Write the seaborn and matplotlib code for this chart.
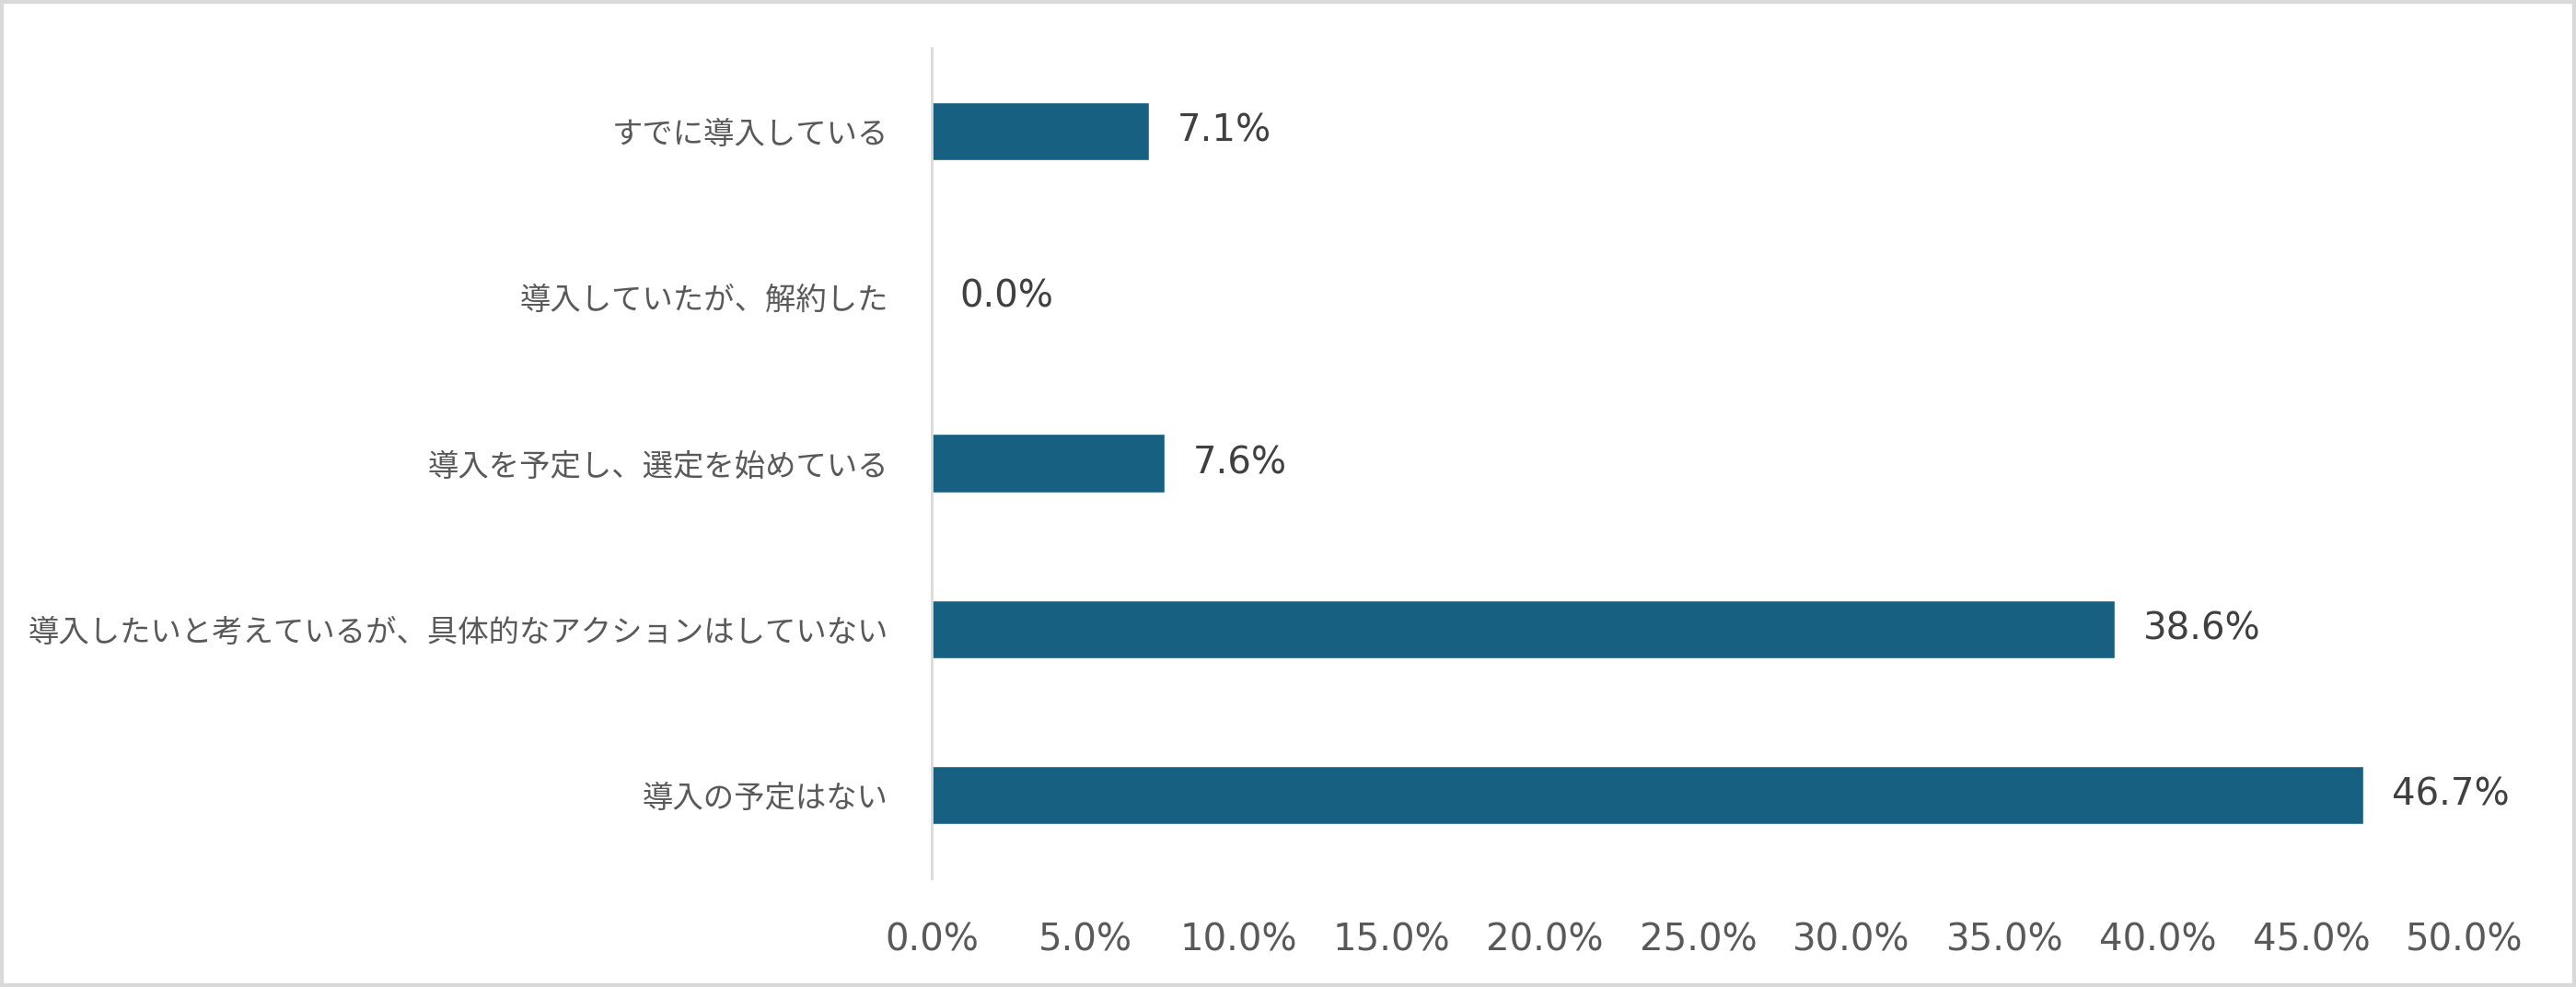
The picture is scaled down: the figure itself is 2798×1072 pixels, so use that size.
import matplotlib
matplotlib.use("Agg")
import matplotlib.pyplot as plt
import seaborn as sns
import pandas as pd
from matplotlib.patches import Rectangle
from matplotlib.ticker import FuncFormatter

categories = [
    "すでに導入している",
    "導入していたが、解約した",
    "導入を予定し、選定を始めている",
    "導入したいと考えているが、具体的なアクションはしていない",
    "導入の予定はない",
]
values = [7.1, 0.0, 7.6, 38.6, 46.7]
x_ticks = [0, 5, 10, 15, 20, 25, 30, 35, 40, 45, 50]

sns.set_theme(style="white")
plt.rcParams['font.family'] = ['DejaVu Sans', 'Noto Sans CJK JP']

df = pd.DataFrame({"category": categories, "value": values})

fig = plt.figure(figsize=(27.98, 10.72), dpi=100)
ax = fig.add_axes([0.3617, 0.110, 0.5951, 0.8415])

sns.barplot(data=df, x="value", y="category", orient="h", color="#176082",
            width=0.35, saturation=1, ax=ax)

ax.set_xlim(0, 50)
ax.set_ylim(4.5, -0.5)
ax.set_xticks(x_ticks)
ax.xaxis.set_major_formatter(FuncFormatter(lambda v, p: f"{v:.1f}%"))
ax.set_xlabel("")
ax.set_ylabel("")

ax.tick_params(axis="x", length=0, pad=34, labelsize=29, labelcolor="#595959")
ax.tick_params(axis="y", length=0, pad=34, labelcolor="#595959")
for lab in ax.get_yticklabels():
    lab.set_fontfamily(['Noto Sans CJK JP', 'DejaVu Sans'])
    lab.set_fontsize(24)

for s in ["top", "right", "bottom"]:
    ax.spines[s].set_visible(False)
ax.spines["left"].set_color("#d9d9d9")
ax.spines["left"].set_linewidth(2)

ax.bar_label(ax.containers[0], labels=[f"{v:.1f}%" for v in values],
             padding=22, fontsize=29, color="#404040")

fig.patches.append(Rectangle((0, 0), 1, 1, transform=fig.transFigure,
                             fill=False, edgecolor="#d9d9d9", linewidth=6))

fig.savefig("out.png", dpi=100)
